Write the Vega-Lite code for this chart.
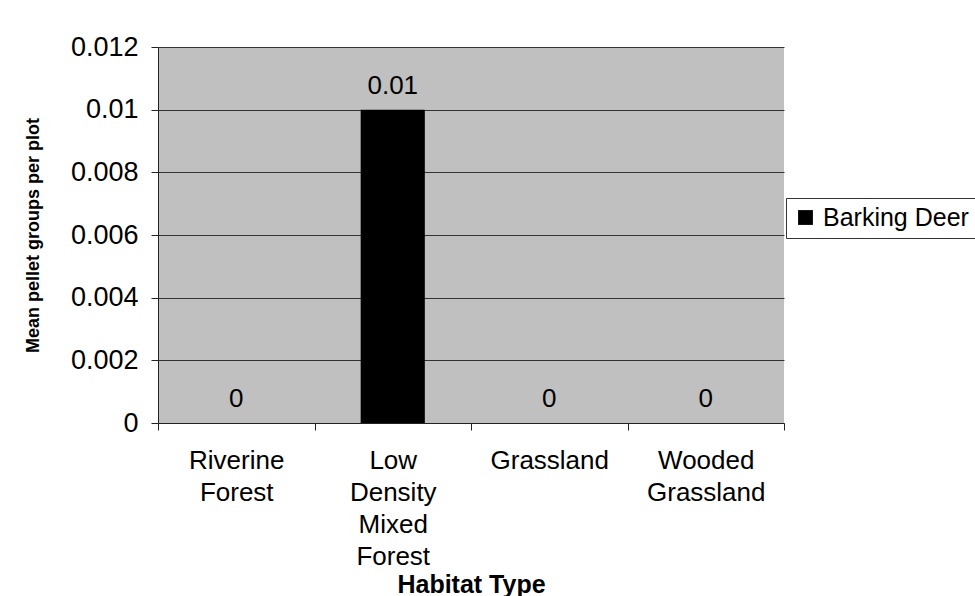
{
  "$schema": "https://vega.github.io/schema/vega-lite/v6.json",
  "autosize": "none",
  "width": 626,
  "height": 376,
  "padding": {"left": 158, "top": 47, "right": 191, "bottom": 173},
  "background": "white",
  "data": {
    "values": [
      {"habitat": "Riverine Forest", "species": "Barking Deer", "pellets": 0},
      {"habitat": "Low Density Mixed Forest", "species": "Barking Deer", "pellets": 0.01},
      {"habitat": "Grassland", "species": "Barking Deer", "pellets": 0},
      {"habitat": "Wooded Grassland", "species": "Barking Deer", "pellets": 0}
    ]
  },
  "encoding": {
    "x": {
      "field": "habitat",
      "type": "nominal",
      "sort": null,
      "scale": {"paddingInner": 0, "paddingOuter": 0},
      "axis": {
        "title": "Habitat Type",
        "titleFontSize": 25,
        "titleFontWeight": "bold",
        "titleY": 161,
        "titleBaseline": "middle",
        "labelAngle": 0,
        "labelExpr": "split(datum.label, ' ')",
        "labelFontSize": 26,
        "labelLineHeight": 32,
        "labelBaseline": "top",
        "labelPadding": 17,
        "tickBand": "extent",
        "tickSize": 7,
        "domainColor": "#222",
        "tickColor": "#222",
        "grid": false
      }
    },
    "y": {
      "field": "pellets",
      "type": "quantitative",
      "scale": {"domain": [0, 0.012], "nice": false},
      "axis": {
        "title": "Mean pellet groups per plot",
        "titleFontSize": 18,
        "titleFontWeight": "bold",
        "titleAngle": -90,
        "titleX": -125,
        "titleY": 188,
        "titleAlign": "center",
        "titleBaseline": "middle",
        "values": [0, 0.002, 0.004, 0.006, 0.008, 0.01, 0.012],
        "format": "~g",
        "labelFontSize": 27,
        "labelPadding": 13,
        "tickSize": 7,
        "domainColor": "#222",
        "tickColor": "#222",
        "grid": true,
        "gridColor": "#333",
        "gridOpacity": 1
      }
    }
  },
  "layer": [
    {
      "mark": {"type": "bar", "width": {"band": 0.41}},
      "encoding": {
        "color": {
          "field": "species",
          "type": "nominal",
          "scale": {"domain": ["Barking Deer"], "range": ["#000000"]},
          "legend": {
            "title": null,
            "orient": "none",
            "legendX": 628,
            "legendY": 151,
            "strokeColor": "#333",
            "fillColor": "white",
            "padding": 7,
            "symbolType": "square",
            "symbolSize": 220,
            "symbolStrokeWidth": 0,
            "labelFontSize": 25,
            "labelOffset": 5,
            "labelLimit": 300
          }
        }
      }
    },
    {
      "mark": {"type": "text", "baseline": "bottom", "dy": -11, "fontSize": 26, "color": "black"},
      "encoding": {
        "text": {"field": "pellets", "type": "quantitative", "format": "~g"}
      }
    }
  ],
  "config": {
    "font": "Liberation Sans",
    "view": {"fill": "#C0C0C0", "stroke": null},
    "axis": {"labelColor": "black", "titleColor": "black"},
    "legend": {"labelColor": "black"}
  }
}
